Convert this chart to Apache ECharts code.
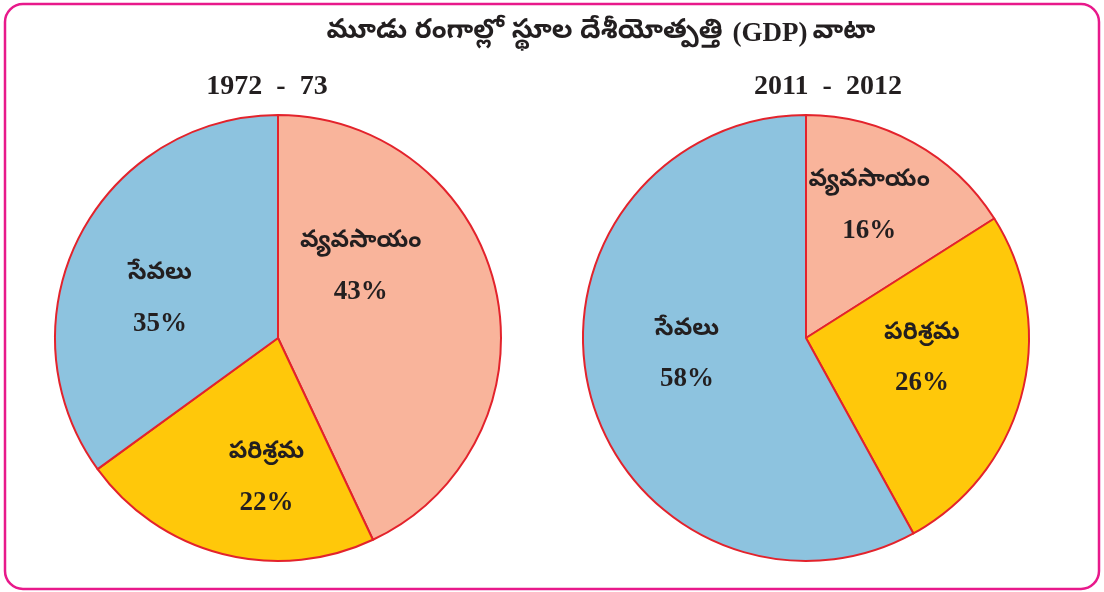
<!DOCTYPE html>
<html lang="te">

<head>
    <meta charset="UTF-8">
    <title>GDP</title>
    <style>
        html,
        body {
            margin: 0;
            height: 100%;
            background: #fff;
        }

        #container {
            width: 1104px;
            height: 592px;
        }
    </style>
</head>

<body>
    <div id="container"></div>
    <script src="https://cdn.jsdelivr.net/npm/echarts@6/dist/echarts.min.js"></script>
    <script>
        // sectors
        var sectors = ['వ్యవసాయం', 'పరిశ్రమ', 'సేవలు'];
        var years = ['1972  -  73', '2011  -  2012'];
        var share1972 = [43, 22, 35];
        var share2011 = [16, 26, 58];
        var colors = ['#f9b49b', '#ffc80a', '#8dc3df'];
        // label nudges (px) for each slice
        var nudge1972 = [[-29, -45], [17, 30], [-16, 14]];
        var nudge2011 = [[8, -31], [5, -7], [-8, -11]];

        var teluguFont = '"Noto Sans Telugu", "Noto Serif Telugu", "Lohit Telugu", "Gurajada", sans-serif';
        var serifFont = '"Liberation Serif", "DejaVu Serif", serif';

        var dom = document.getElementById('container');
        var myChart = echarts.init(dom);

        function pieData(values, nudges) {
            return values.map(function (v, i) {
                return {
                    name: sectors[i],
                    value: v,
                    itemStyle: { color: colors[i] },
                    label: { offset: nudges[i] }
                };
            });
        }

        function pieSeries(values, nudges, cx) {
            return {
                type: 'pie',
                center: [cx, 338],
                radius: 223,
                startAngle: 90,
                clockwise: true,
                silent: true,
                animation: false,
                data: pieData(values, nudges),
                itemStyle: {
                    borderColor: '#e3232c',
                    borderWidth: 2
                },
                label: {
                    show: true,
                    position: 'inside',
                    formatter: '{n|{b}}\n{p|{c}%}',
                    rich: {
                        n: {
                            fontFamily: teluguFont,
                            fontWeight: 'bold',
                            fontSize: 24,
                            color: '#231f20',
                            lineHeight: 48
                        },
                        p: {
                            fontFamily: serifFont,
                            fontWeight: 'bold',
                            fontSize: 27,
                            color: '#231f20',
                            lineHeight: 48
                        }
                    }
                },
                labelLine: { show: false }
            };
        }

        var option = {
            backgroundColor: '#fff',
            title: [
                {
                    text: '{t|మూడు రంగాల్లో స్థూల దేశీయోత్పత్తి}  {g|(GDP)} {t|వాటా}',
                    left: 596,
                    top: 16,
                    textAlign: 'center',
                    textStyle: {
                        rich: {
                            t: {
                                fontFamily: teluguFont,
                                fontWeight: 'bold',
                                fontSize: 27,
                                color: '#231f20'
                            },
                            g: {
                                fontFamily: serifFont,
                                fontWeight: 'bold',
                                fontSize: 27,
                                color: '#231f20'
                            }
                        }
                    }
                },
                {
                    text: years[0],
                    left: 262,
                    top: 68,
                    textAlign: 'center',
                    textStyle: { fontFamily: serifFont, fontWeight: 'bold', fontSize: 28, color: '#231f20' }
                },
                {
                    text: years[1],
                    left: 823,
                    top: 68,
                    textAlign: 'center',
                    textStyle: { fontFamily: serifFont, fontWeight: 'bold', fontSize: 28, color: '#231f20' }
                }
            ],
            graphic: [
                {
                    type: 'rect',
                    shape: { x: 5, y: 4, width: 1094, height: 585, r: 18 },
                    style: { fill: 'none', stroke: '#e8198b', lineWidth: 2.5 },
                    silent: true
                }
            ],
            series: [
                pieSeries(share1972, nudge1972, 278),
                pieSeries(share2011, nudge2011, 806)
            ]
        };

        myChart.setOption(option);
    </script>
</body>

</html>
